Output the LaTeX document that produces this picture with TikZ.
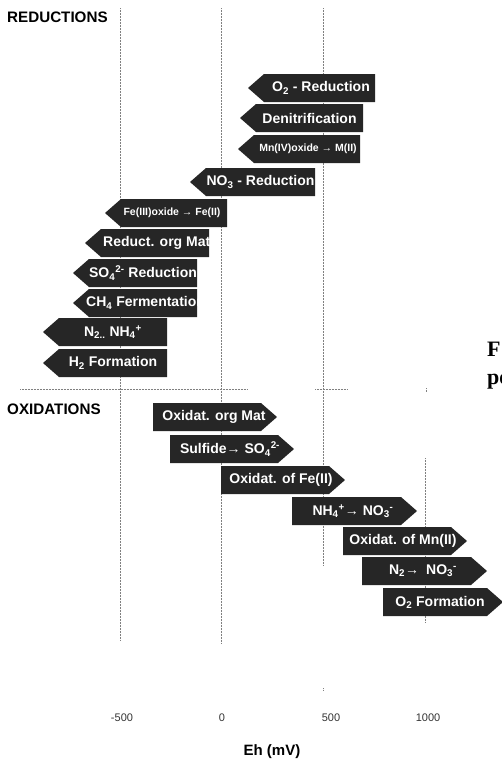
\documentclass[tikz,border=0pt]{standalone}
\usepackage{fontspec}
\setmainfont{Liberation Sans}
\newfontfamily\capfont{Liberation Serif}
\tikzset{
  band/.style={fill=black!85},
  bandtext/.style={text=white,font=\bfseries\fontsize{14}{14}\selectfont,inner sep=0pt},
  smallband/.style={bandtext,font=\bfseries\fontsize{10.5}{11}\selectfont},
  gridline/.style={draw=gray,densely dotted,line width=.5pt},
  header/.style={font=\bfseries\fontsize{15.2}{15}\selectfont,inner sep=0pt,anchor=west},
  ticklabel/.style={text=black!80,font=\fontsize{11}{11}\selectfont,inner sep=0pt},
}

\begin{document}
\begin{tikzpicture}[x=1pt,y=-1pt]
                    \useasboundingbox (0,0) rectangle (502,763);
                    \clip (0,0) rectangle (502,763);
                    % dotted grid
                    \draw [gridline] (120,8) -- (120,640);
                    \draw [gridline] (221,8) -- (221,643);
                    \draw [gridline] (323,8) -- (323,565);
                    \draw [gridline] (425,458) -- (425,622);
                    \draw [gridline] (20,389) -- (247,389);
                    \draw [gridline] (315,389) -- (347,389);
                    \draw [gridline] (426,388) -- (426,392);
                    \draw [gridline] (323,688) -- (323,691);
                    \node [header] (red) at (7,17) {REDUCTIONS};
                    \node [header] (ox) at (7,409) {OXIDATIONS};
                    % reductions
                    \fill [band] (248,88) -- (264,74) -- (375,74) -- (375,102) -- (264,102) -- cycle;
                    \node [bandtext] (o2red) at (321,88) {O\textsubscript{2} - Reduction};
                    \fill [band] (240,118) -- (256,104) -- (363,104) -- (363,132) -- (256,132) -- cycle;
                    \node [bandtext] (denit) at (309.5,118) {Denitrification};
                    \fill [band] (238,149) -- (254,135) -- (360,135) -- (360,163) -- (254,163) -- cycle;
                    \node [smallband] (mnred) at (308,149) {Mn(IV)oxide → M(II)};
                    \fill [band] (190,182) -- (206,168) -- (315,168) -- (315,196) -- (206,196) -- cycle;
                    \node [bandtext] (no3red) at (260.5,182) {NO\textsubscript{3} - Reduction};
                    \fill [band] (105,213) -- (121,199) -- (227,199) -- (227,227) -- (121,227) -- cycle;
                    \node [smallband] (fered) at (172,213) {Fe(III)oxide → Fe(II)};
                    \fill [band] (85,243) -- (101,229) -- (209,229) -- (209,257) -- (101,257) -- cycle;
                    \node [bandtext,anchor=west] (orgred) at (103,243) {Reduct. org Mat};
                    \fill [band] (73,273) -- (89,259) -- (197,259) -- (197,287) -- (89,287) -- cycle;
                    \node [bandtext] (so4red) at (143,273) {SO\textsubscript{4}\textsuperscript{2-} Reduction};
                    \fill [band] (73,303) -- (89,289) -- (197,289) -- (197,317) -- (89,317) -- cycle;
                    \node [bandtext,anchor=west] (ch4) at (86,303) {CH\textsubscript{4} Fermentation};
                    \fill [band] (43,332) -- (59,318) -- (167,318) -- (167,346) -- (59,346) -- cycle;
                    \node [bandtext] (n2nh4) at (113,332) {N\textsubscript{2..} NH\textsubscript{4}\textsuperscript{+}};
                    \fill [band] (43,363) -- (59,349) -- (167,349) -- (167,377) -- (59,377) -- cycle;
                    \node [bandtext] (h2) at (113,363) {H\textsubscript{2} Formation};
                    % oxidations
                    \fill [band] (153,403) -- (261,403) -- (277,417) -- (261,431) -- (153,431) -- cycle;
                    \node [bandtext] (orgox) at (214,417) {Oxidat. org Mat};
                    \fill [band] (170,435) -- (278,435) -- (294,449) -- (278,463) -- (170,463) -- cycle;
                    \node [bandtext] (sulfox) at (230,449) {Sulfide→ SO\textsubscript{4}\textsuperscript{2-}};
                    \fill [band] (221,466) -- (329,466) -- (345,480) -- (329,494) -- (221,494) -- cycle;
                    \node [bandtext] (feox) at (281,480) {Oxidat. of Fe(II)};
                    \fill [band] (292,497) -- (401,497) -- (417,511) -- (401,525) -- (292,525) -- cycle;
                    \node [bandtext] (nh4ox) at (353,511) {NH\textsubscript{4}\textsuperscript{+}→ NO\textsubscript{3}\textsuperscript{-}};
                    \fill [band] (343,527) -- (451,527) -- (467,541) -- (451,555) -- (343,555) -- cycle;
                    \node [bandtext] (mnox) at (403,541) {Oxidat. of Mn(II)};
                    \fill [band] (362,557) -- (471,557) -- (487,571) -- (471,585) -- (362,585) -- cycle;
                    \node [bandtext] (n2ox) at (423,571) {N\textsubscript{2}→\enspace NO\textsubscript{3}\textsuperscript{-}};
                    \fill [band] (383,588) -- (487,588) -- (503,602) -- (487,616) -- (383,616) -- cycle;
                    \node [bandtext] (o2form) at (440,602) {O\textsubscript{2} Formation};
                    % axis
                    \node [ticklabel] (tm500) at (122,718) {-500};
                    \node [ticklabel] (t0) at (222,718) {0};
                    \node [ticklabel] (t500) at (331,718) {500};
                    \node [ticklabel] (t1000) at (428,718) {1000};
                    \node [font=\bfseries\fontsize{15}{15}\selectfont] (eh) at (272,752) {Eh (mV)};
                    % caption remains at the right
                    \node [font=\capfont\bfseries\fontsize{22}{22}\selectfont,anchor=base west,inner sep=0pt] (capf) at (487,356) {F};
                    \node [font=\capfont\bfseries\fontsize{22}{22}\selectfont,anchor=base west,inner sep=0pt] (cappe) at (487,384) {pe};
                \end{tikzpicture}
\end{document}
